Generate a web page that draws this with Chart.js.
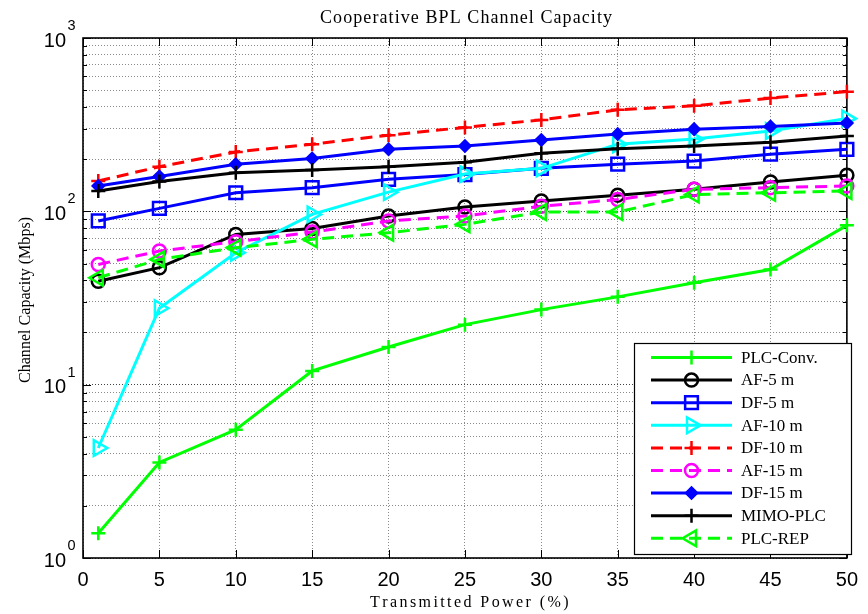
<!DOCTYPE html>
<html>
<head>
<meta charset="utf-8">
<script src="https://cdn.jsdelivr.net/npm/chart.js@4/dist/chart.umd.min.js"></script>
<style>
  html, body { margin: 0; padding: 0; background: #fff; }
  #wrap { width: 868px; height: 614px; }
</style>
</head>
<body>
<div id="wrap"><canvas id="c" width="868" height="614"></canvas></div>
<script>
// Transmitted power (%) at which each capacity was evaluated
const powerPct = [1, 5, 10, 15, 20, 25, 30, 35, 40, 45, 50];

// Channel capacity (Mbps) per scheme
const plcConv = [1.39, 3.56, 5.5, 12.0, 16.5, 22.2, 27.1, 32.1, 38.7, 46.2, 83];
const af5     = [39.5, 47.3, 73.6, 79.7, 94, 106, 114.7, 124, 134, 147.6, 161.5];
const df5     = [88, 104, 128, 137, 153, 163, 177, 187, 195, 213.5, 228];
const af10    = [4.31, 27.6, 57.7, 96, 129, 164, 177, 244, 261, 291, 343];
const df10    = [149.6, 181, 220, 244, 275, 305, 337, 385, 406, 450, 490];
const af15    = [49.4, 59, 66.8, 75.9, 88, 94, 107, 117, 134, 137, 140];
const df15    = [140, 159, 187, 202, 228, 238, 258, 279, 298, 309, 323];
const mimoPlc = [131, 148.5, 167, 173, 181, 192, 216, 230, 238, 250, 272];
const plcRep  = [41.4, 52.8, 61.7, 68.9, 75.3, 84.1, 99, 99, 125, 128, 131];

// Axis ticks
const xTicks = [0, 5, 10, 15, 20, 25, 30, 35, 40, 45, 50];
const yDecadeExp = [0, 1, 2, 3];

const SERIF = '"Liberation Serif", "Times New Roman", serif';
const SANS = '"Liberation Sans", Arial, sans-serif';

// log-grid tick values: 1..9 in every decade, plus the top decade
const yTickValues = [];
for (let e = 0; e < 3; e++) for (let m = 1; m <= 9; m++) yTickValues.push(m * Math.pow(10, e));
yTickValues.push(1000);

function pts(arr) { return powerPct.map((x, i) => ({ x: x, y: arr[i] })); }

const seriesDefs = [
  { label: 'PLC-Conv.', data: plcConv, color: '#00ff00', dash: [],      style: 'cross',    rot: 0,   r: 7,   fill: false },
  { label: 'AF-5 m',    data: af5,     color: '#000000', dash: [],      style: 'circle',   rot: 0,   r: 6.5, fill: false },
  { label: 'DF-5 m',    data: df5,     color: '#0000ff', dash: [],      style: 'rect',     rot: 0,   r: 9,   fill: false },
  { label: 'AF-10 m',   data: af10,    color: '#00ffff', dash: [],      style: 'triangle', rot: 90,  r: 9,   fill: false },
  { label: 'DF-10 m',   data: df10,    color: '#ff0000', dash: [12, 7], style: 'cross',    rot: 0,   r: 7,   fill: false },
  { label: 'AF-15 m',   data: af15,    color: '#ff00ff', dash: [12, 7], style: 'circle',   rot: 0,   r: 6.5, fill: false },
  { label: 'DF-15 m',   data: df15,    color: '#0000ff', dash: [],      style: 'rectRot',  rot: 0,   r: 5.5, fill: true  },
  { label: 'MIMO-PLC',  data: mimoPlc, color: '#000000', dash: [],      style: 'cross',    rot: 0,   r: 7,   fill: false },
  { label: 'PLC-REP',   data: plcRep,  color: '#00ff00', dash: [12, 7], style: 'triangle', rot: -90, r: 9,   fill: false }
];

const datasets = seriesDefs.map((s, i) => ({
  label: s.label,
  data: pts(s.data),
  borderColor: s.color,
  borderWidth: 3,
  borderDash: s.dash,
  backgroundColor: s.color,
  pointStyle: s.style,
  pointRotation: s.rot,
  pointRadius: s.r,
  pointHoverRadius: s.r,
  pointBorderColor: s.color,
  pointBackgroundColor: s.fill ? s.color : 'rgba(0,0,0,0)',
  pointBorderWidth: 2.5,
  tension: 0,
  fill: false,
  clip: false,
  order: seriesDefs.length - i
}));

// text stretched to a given width by spreading characters
function spacedText(ctx, text, x0, y, width) {
  const natural = ctx.measureText(text).width;
  const extra = text.length > 1 ? (width - natural) / (text.length - 1) : 0;
  let x = x0;
  for (const ch of text) {
    ctx.fillText(ch, x, y);
    x += ctx.measureText(ch).width + extra;
  }
}

const decorations = {
  id: 'decorations',
  beforeDatasetsDraw(chart) {
    const { ctx, chartArea: a, scales } = chart;
    const xs = scales.x, ys = scales.y;
    ctx.save();
    ctx.strokeStyle = '#000';
    ctx.lineWidth = 1;
    // inward tick marks on all four sides
    ctx.beginPath();
    xTicks.forEach(v => {
      const px = Math.round(xs.getPixelForValue(v)) + 0.5;
      ctx.moveTo(px, a.bottom); ctx.lineTo(px, a.bottom - 8);
      ctx.moveTo(px, a.top); ctx.lineTo(px, a.top + 8);
    });
    yTickValues.forEach(v => {
      const py = Math.round(ys.getPixelForValue(v)) + 0.5;
      const major = Math.abs(Math.log10(v) - Math.round(Math.log10(v))) < 1e-9;
      const len = major ? 8 : 4;
      ctx.moveTo(a.left, py); ctx.lineTo(a.left + len, py);
      ctx.moveTo(a.right, py); ctx.lineTo(a.right - len, py);
    });
    ctx.stroke();
    // axes box
    ctx.lineWidth = 1.6;
    ctx.strokeRect(a.left, a.top, a.right - a.left, a.bottom - a.top);

    // y tick labels as 10 with a superscript exponent
    ctx.fillStyle = '#000';
    yDecadeExp.forEach(e => {
      const py = ys.getPixelForValue(Math.pow(10, e));
      ctx.font = '20px ' + SANS;
      ctx.textAlign = 'right';
      ctx.textBaseline = 'middle';
      ctx.fillText('10', 66, py + 3);
      ctx.font = '14.5px ' + SANS;
      ctx.textAlign = 'left';
      ctx.fillText(String(e), 67.5, py - 12);
    });

    // chart title and axis titles
    ctx.textAlign = 'left';
    ctx.textBaseline = 'middle';
    ctx.font = '18px ' + SERIF;
    spacedText(ctx, 'Cooperative BPL Channel Capacity', 320, 18, 292);
    ctx.font = '16px ' + SERIF;
    spacedText(ctx, 'Transmitted Power (%)', 370, 603, 198);
    ctx.save();
    ctx.translate(26, 300);
    ctx.rotate(-Math.PI / 2);
    spacedText(ctx, 'Channel Capacity (Mbps)', -83, 0, 166);
    ctx.restore();
    ctx.restore();
  },
  afterDatasetsDraw(chart) {
    const ctx = chart.ctx;
    ctx.save();
    // legend box
    const bx = 634, by = 343, bw = 217, bh = 211;
    ctx.fillStyle = '#fff';
    ctx.fillRect(bx, by, bw, bh);
    ctx.strokeStyle = '#000';
    ctx.lineWidth = 1.2;
    ctx.strokeRect(bx + 0.5, by + 0.5, bw, bh);
    seriesDefs.forEach((s, i) => {
      const y = 357.5 + i * 22.6;
      ctx.strokeStyle = s.color;
      ctx.lineWidth = 3;
      ctx.setLineDash(s.dash);
      ctx.beginPath();
      ctx.moveTo(651, y); ctx.lineTo(732, y);
      ctx.stroke();
      ctx.setLineDash([]);
      ctx.fillStyle = s.fill ? s.color : 'rgba(0,0,0,0)';
      ctx.strokeStyle = s.color;
      ctx.lineWidth = 2.5;
      Chart.helpers.drawPoint(ctx, { pointStyle: s.style, rotation: s.rot, radius: s.r, borderWidth: 2.5 }, 691.5, y);
      // labels are slightly widened, as in the exported figure
      ctx.fillStyle = '#000';
      ctx.font = '16px ' + SERIF;
      ctx.textAlign = 'left';
      ctx.textBaseline = 'middle';
      ctx.save();
      ctx.translate(741, y + 1);
      ctx.scale(1.06, 1);
      ctx.fillText(s.label, 0, 0);
      ctx.restore();
    });
    ctx.restore();
  }
};

new Chart(document.getElementById('c'), {
  type: 'line',
  data: { datasets: datasets },
  plugins: [decorations],
  options: {
    responsive: false,
    animation: false,
    devicePixelRatio: 1,
    layout: { padding: { left: 0, right: 13, top: 38, bottom: 0 } },
    plugins: { legend: { display: false }, title: { display: false }, tooltip: { enabled: false } },
    events: [],
    scales: {
      x: {
        type: 'linear', min: 0, max: 50,
        afterFit(s) { s.height = 56; },
        afterBuildTicks(s) { s.ticks = xTicks.map(v => ({ value: v })); },
        grid: { color: '#8a8a8a', lineWidth: 1, drawTicks: false },
        border: { display: false, dash: [1, 2] },
        ticks: { font: { family: SANS, size: 20 }, color: '#000', padding: 10, autoSkip: false, maxRotation: 0 }
      },
      y: {
        type: 'logarithmic', min: 1, max: 1000,
        afterFit(s) { s.width = 83; },
        afterBuildTicks(s) { s.ticks = yTickValues.map(v => ({ value: v })); },
        grid: {
          color: ctx => {
            const v = ctx.tick ? ctx.tick.value : 0;
            const lg = Math.log10(v);
            return Math.abs(lg - Math.round(lg)) < 1e-9 ? '#444' : '#8a8a8a';
          },
          lineWidth: 1, drawTicks: false
        },
        border: { display: false, dash: [1, 2] },
        ticks: { display: false, autoSkip: false }
      }
    }
  }
});
</script>
</body>
</html>
